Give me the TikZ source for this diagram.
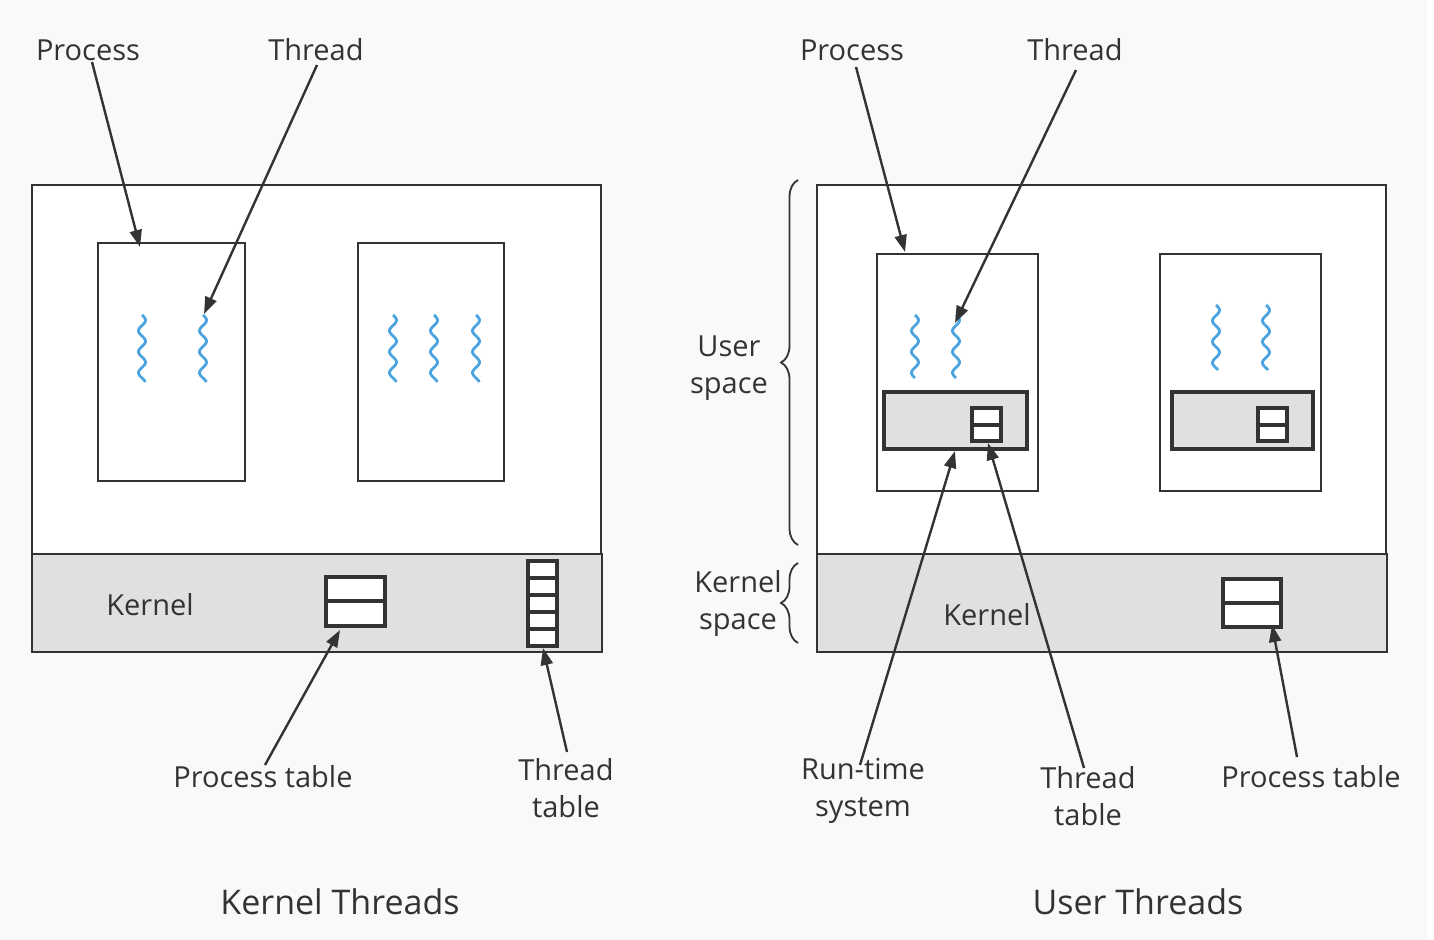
\documentclass[tikz,border=0pt]{standalone}
\usepackage{fontspec}
\setmainfont{Open Sans}
\usetikzlibrary{arrows.meta,decorations.pathreplacing}
\definecolor{bg}{HTML}{F9F9F9}
\definecolor{ink}{HTML}{333333}
\definecolor{kern}{HTML}{E0E0E0}
\definecolor{wave}{HTML}{4BA3DF}
\tikzset{
  box/.style={draw=ink,line width=0.9pt,fill=white},
  kbox/.style={draw=ink,line width=1.2pt,fill=kern},
  rtbox/.style={draw=ink,line width=1.6pt,fill=kern},
  tbl/.style={draw=ink,line width=1.6pt,fill=white},
  thr/.style={draw=wave,line width=1.4pt},
  arr/.style={draw=ink,line width=1.2pt,-{Triangle[length=8.5pt,width=6pt]}},
  lbl/.style={text=ink,font=\fontsize{14.5}{18.5}\selectfont,align=center,inner sep=0pt},
  ttl/.style={text=ink,font=\fontsize{17}{20}\selectfont,inner sep=0pt},
  brc/.style={draw=ink,line width=0.9pt,decorate,decoration={brace,amplitude=8.5pt}},
}
\begin{document}
\begin{tikzpicture}[x=0.5pt,y=-0.5pt]
    \fill[white] (0,0) rectangle (1434,940);
    \fill[bg] (0,0) rectangle (1427,940);
    \useasboundingbox (0,0) rectangle (1434,940);
    \begin{scope}
        %% user part and kernel
        \draw[box,line width=1.2pt] (32,185) rectangle (601,554);
        \draw[kbox] (32,554) rectangle (602,652);
        \node[lbl] (kernL) at (150,605) {Kernel};
        %% processes
        \draw[box] (98,243) rectangle (245,481);
        \draw[box] (358,243) rectangle (504,481);
        \foreach \tx in {142,203,393,434,476}
            \draw[thr] plot[domain=0:67,samples=80,smooth] ({\tx+3.5*sin(\x/21*360)},{315+\x});
        %% process table
        \draw[tbl] (326,577) rectangle (385,626);
        \draw[tbl] (326,601) -- (385,601);
        %% thread table
        \draw[tbl] (528,561) rectangle (557,646);
        \foreach \ty in {578,595,612,629}
            \draw[tbl] (528,\ty) -- (557,\ty);
        %% labels
        \node[lbl] (procL) at (88,50) {Process};
        \node[lbl] (thrL) at (316,50) {Thread};
        \node[lbl] (ptabL) at (263,777) {Process table};
        \node[lbl] (ttabL) at (566,788) {Thread\\table};
        \node[ttl] (titleL) at (340,902) {Kernel Threads};
        %% arrows
        \coordinate (procLs) at (92,62);   \coordinate (procLe) at (140,247);
        \coordinate (thrLs) at (317,65);   \coordinate (thrLe) at (204,314);
        \coordinate (ptabLs) at (265,765); \coordinate (ptabLe) at (340,630);
        \coordinate (ttabLs) at (567,752); \coordinate (ttabLe) at (543,648);
        \draw[arr] (procLs) -- (procLe);
        \draw[arr] (thrLs) -- (thrLe);
        \draw[arr] (ptabLs) -- (ptabLe);
        \draw[arr] (ttabLs) -- (ttabLe);
    \end{scope}
    \begin{scope}
        %% user part and kernel
        \draw[box,line width=1.2pt] (817,185) rectangle (1386,554);
        \draw[kbox] (817,554) rectangle (1387,652);
        \node[lbl] (kernR) at (987,615) {Kernel};
        %% processes
        \draw[box] (877,254) rectangle (1038,491);
        \draw[box] (1160,254) rectangle (1321,491);
        \foreach \tx in {915,956}
            \draw[thr] plot[domain=0:63,samples=80,smooth] ({\tx+3.5*sin(\x/21*360)},{315+\x});
        \foreach \tx in {1216,1266}
            \draw[thr] plot[domain=0:65,samples=80,smooth] ({\tx+3.5*sin(\x/21*360)},{305+\x});
        %% run-time systems
        \draw[rtbox] (884,392) rectangle (1027,449);
        \draw[tbl] (972,408) rectangle (1001,441);
        \draw[tbl] (972,425) -- (1001,425);
        \draw[rtbox] (1172,392) rectangle (1313,449);
        \draw[tbl] (1258,408) rectangle (1287,441);
        \draw[tbl] (1258,425) -- (1287,425);
        %% process table
        \draw[tbl] (1223,579) rectangle (1281,627);
        \draw[tbl] (1223,603) -- (1281,603);
        %% spaces
        \draw[brc] (798,545) -- (798,180);
        \draw[brc] (798,643) -- (798,563);
        \node[lbl] (usrsp) at (729,368) {User\\space};
        \node[lbl] (krnsp) at (738,603) {Kernel\\space};
        %% labels
        \node[lbl] (procR) at (852,50) {Process};
        \node[lbl] (thrR) at (1075,50) {Thread};
        \node[lbl] (rtsR) at (863,791) {Run-time\\system};
        \node[lbl] (ttabR) at (1088,796) {Thread\\table};
        \node[lbl] (ptabR) at (1311,777) {Process table};
        \node[ttl] (titleR) at (1138,902) {User Threads};
        %% arrows
        \coordinate (procRs) at (856,67);   \coordinate (procRe) at (905,252);
        \coordinate (thrRs) at (1076,70);   \coordinate (thrRe) at (955,323);
        \coordinate (rtsRs) at (860,765);   \coordinate (rtsRe) at (955,451);
        \coordinate (ttabRs) at (1084,768); \coordinate (ttabRe) at (988,443);
        \coordinate (ptabRs) at (1297,757); \coordinate (ptabRe) at (1272,625);
        \draw[arr] (procRs) -- (procRe);
        \draw[arr] (thrRs) -- (thrRe);
        \draw[arr] (rtsRs) -- (rtsRe);
        \draw[arr] (ttabRs) -- (ttabRe);
        \draw[arr] (ptabRs) -- (ptabRe);
    \end{scope}
\end{tikzpicture}
\end{document}
